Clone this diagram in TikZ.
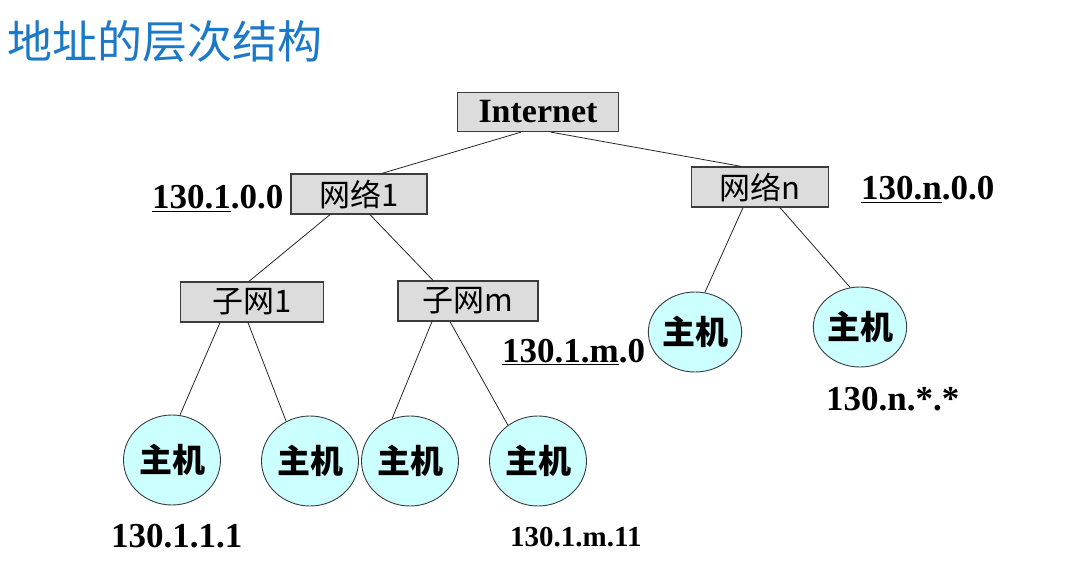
\documentclass[tikz,border=0pt]{standalone}
\usepackage{fontspec}
\setmainfont{Liberation Serif}
\newfontfamily\cjk{Noto Sans CJK SC}
\usetikzlibrary{shapes.geometric}
\definecolor{titleblue}{RGB}{28,120,200}
\definecolor{boxgray}{RGB}{220,220,220}
\definecolor{hostcyan}{RGB}{204,255,255}
\definecolor{edgegray}{RGB}{60,60,60}

\begin{document}
\begin{tikzpicture}[
    x=1pt, y=-1pt,
    netbox/.style={draw=edgegray, line width=1.3pt, fill=boxgray, minimum width=136pt,
        minimum height=40pt, inner sep=0pt, font=\cjk\fontsize{31}{31}\selectfont},
    host/.style={ellipse, draw=edgegray, line width=0.9pt, fill=hostcyan, minimum width=97pt,
        minimum height=90pt, inner sep=0pt, font=\cjk\bfseries\fontsize{33}{33}\selectfont},
    addr/.style={anchor=base west, inner sep=0pt, font=\bfseries\fontsize{35}{35}\selectfont},
    link/.style={line width=0.8pt, black!85},
]
\useasboundingbox (0,0) rectangle (1066,564);
% title
\node[anchor=west, inner sep=0pt, text=titleblue, font=\cjk\fontsize{45}{45}\selectfont] (title) at (7,42) {地址的层次结构};
% tree of networks
\node[netbox, minimum width=161pt, minimum height=39pt, font=\bfseries\fontsize{34}{34}\selectfont] (inet) at (538,112) {\raisebox{-2pt}{Internet}};
\node[netbox] (net1) at (359,194) {\raisebox{-2pt}{网络1}};
\node[netbox, minimum width=137pt] (netn) at (760,187) {\raisebox{-2pt}{网络n}};
\node[netbox, minimum width=143pt] (sub1) at (252,302) {\raisebox{-2pt}{子网1}};
\node[netbox, minimum width=140pt] (subm) at (468,301) {\raisebox{-2pt}{子网m}};
% hosts
\node[host] (h11) at (172,460) {主机};
\node[host] (h12) at (310,461) {主机};
\node[host] (hm1) at (410,461) {主机};
\node[host] (hm2) at (538,461) {主机};
\node[host, minimum width=88pt, minimum height=80pt] (hn1) at (695,332) {主机};
\node[host, minimum width=88pt, minimum height=80pt] (hn2) at (860,327) {主机};
% links
\draw[link] ([xshift=-17pt]inet.south) -- ([xshift=23pt]net1.north);
\draw[link] ([xshift=13pt]inet.south) -- ([xshift=-19pt]netn.north);
\draw[link] ([xshift=-29pt]net1.south) -- ([xshift=-3pt]sub1.north);
\draw[link] ([xshift=11pt]net1.south) -- ([xshift=-35pt]subm.north);
\draw[link] ([xshift=-32pt]sub1.south) -- (h11.80);
\draw[link] ([xshift=-4pt]sub1.south) -- (h12.121);
\draw[link] ([xshift=-36pt]subm.south) -- (hm1.113);
\draw[link] ([xshift=-18pt]subm.south) -- (hm2.130);
\draw[link] ([xshift=-17pt]netn.south) -- (hn1.76);
\draw[link] ([xshift=20pt]netn.south) -- (hn2.104);
% addresses
\node[addr] (a-net1) at (152,209) {\underline{130.1}.0.0};
\node[addr] (a-netn) at (861,200) {\underline{130.n}.0.0};
\node[addr] (a-subm) at (502,362) {\underline{130.1.m}.0};
\node[addr] (a-hn) at (826,410) {130.n.*.*};
\node[addr] (a-h11) at (111,547) {130.1.1.1};
\node[addr, font=\bfseries\fontsize{29}{29}\selectfont] (a-hm2) at (510,546) {130.1.m.11};
\end{tikzpicture}
\end{document}
